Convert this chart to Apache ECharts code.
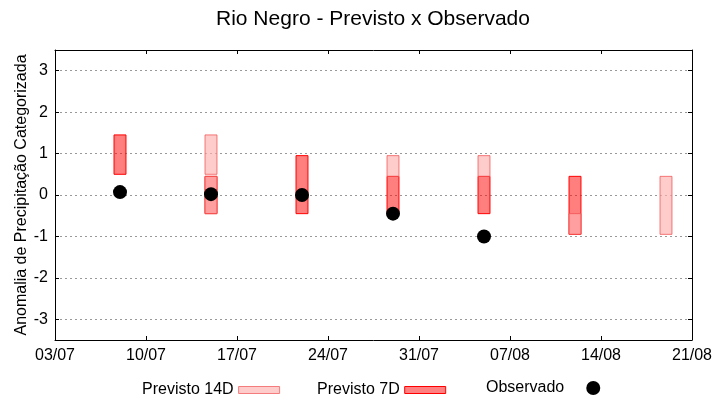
<!DOCTYPE html>
<html>
<head>
<meta charset="utf-8">
<script src="https://cdn.jsdelivr.net/npm/echarts@6/dist/echarts.min.js"></script>
<style>html,body{margin:0;padding:0;background:#fff}#c{width:720px;height:400px}</style>
</head>
<body>
<div id="c"></div>
<script>
// ---- data ----
const startDate = '03/07';
const xTickLabels = ['03/07','10/07','17/07','24/07','31/07','07/08','14/08','21/08'];
const yTickValues = [-3, -2, -1, 0, 1, 2, 3];
// Previsto 14D boxes: [date, low, high]
const prev14Dates = ['15/07','15/07','29/07','05/08','12/08','19/08'];
const prev14Low   = [0.5, -0.45, 0.45, 0.45, -0.95, -0.95];
const prev14High  = [1.45, 0.45, 0.95, 0.95, -0.45, 0.45];
// Previsto 7D boxes
const prev7Dates = ['08/07','15/07','22/07','29/07','05/08','12/08'];
const prev7Low   = [0.5, -0.45, -0.45, -0.45, -0.45, -0.95];
const prev7High  = [1.45, 0.45, 0.95, 0.45, 0.45, 0.45];
// Observado
const obsDates  = ['08/07','15/07','22/07','29/07','05/08'];
const obsValues = [0.07, 0.02, 0.0, -0.45, -1.0];

function dayIndex(s) {
  const [d, m] = s.split('/').map(Number);
  const [d0, m0] = startDate.split('/').map(Number);
  const t = Date.UTC(2024, m - 1, d), t0 = Date.UTC(2024, m0 - 1, d0);
  return Math.round((t - t0) / 86400000);
}

const boxHalf = 0.46;
function makeRender(fill, stroke) {
  return function (params, api) {
    const x = api.value(0), lo = api.value(1), hi = api.value(2);
    const p1 = api.coord([x - boxHalf, hi]);
    const p2 = api.coord([x + boxHalf, lo]);
    return {
      type: 'rect',
      shape: { x: p1[0], y: p1[1], width: p2[0] - p1[0], height: p2[1] - p1[1] },
      style: { fill: fill, stroke: stroke, lineWidth: 1 }
    };
  };
}

const c7fill = 'rgba(255,0,0,0.5)', c7stroke = '#ff0000';
const c14fill = 'rgba(255,177,177,0.65)', c14stroke = 'rgba(240,80,80,0.75)';

const narrow = '"Liberation Sans Narrow", "Liberation Sans", Arial, sans-serif';
const regular = '"Liberation Sans", Arial, sans-serif';

const xCommon = {
  type: 'value', min: 0, max: 49, interval: 7,
  axisLine: { show: true, onZero: false, lineStyle: { color: '#000', width: 1 } },
  axisTick: { show: true, inside: true, length: 4, lineStyle: { color: '#000' } },
  splitLine: { show: false }
};
const yCommon = {
  type: 'value', min: -3.5, max: 3.5,
  axisLine: { show: true, onZero: false, lineStyle: { color: '#000', width: 1 } },
  axisTick: { show: true, inside: true, length: 4, customValues: yTickValues, lineStyle: { color: '#000' } }
};

const option = {
  animation: false,
  backgroundColor: '#fff',
  title: {
    text: 'Rio Negro - Previsto x Observado',
    left: 373, top: 9, textAlign: 'center', padding: 0,
    textStyle: { fontFamily: regular, fontSize: 21, fontWeight: 'normal', color: '#000' }
  },
  grid: { left: 55, right: 28, top: 50, bottom: 60, containLabel: false },
  legend: [
    { left: 142, top: 382, padding: 0, align: 'right', itemWidth: 41, itemHeight: 7,
      textStyle: { fontFamily: regular, fontSize: 16, color: '#000' },
      data: [{ name: 'Previsto 14D', icon: 'rect', itemStyle: { color: 'rgb(255,204,204)', borderColor: 'rgb(244,124,124)', borderWidth: 1 } }] },
    { left: 317, top: 382, padding: 0, align: 'right', itemWidth: 41, itemHeight: 7,
      textStyle: { fontFamily: regular, fontSize: 16, color: '#000' },
      data: [{ name: 'Previsto 7D', icon: 'rect', itemStyle: { color: 'rgb(255,128,128)', borderColor: '#ff0000', borderWidth: 1 } }] },
    { left: 486, top: 380, padding: 0, align: 'right', itemWidth: 14, itemHeight: 14,
      textStyle: { fontFamily: regular, fontSize: 16, color: '#000', padding: [0, 17, 3, 0] },
      data: [{ name: 'Observado', icon: 'circle', itemStyle: { color: '#000', opacity: 1 } }] }
  ],
  xAxis: [
    Object.assign({}, xCommon, {
      position: 'bottom',
      axisLabel: { show: true, margin: 8, fontFamily: narrow, fontSize: 16, color: '#000',
        formatter: v => xTickLabels[Math.round(v / 7)] }
    }),
    Object.assign({}, xCommon, { position: 'top', axisLabel: { show: false } })
  ],
  yAxis: [
    Object.assign({}, yCommon, {
      position: 'left',
      name: 'Anomalia de Precipitação Categorizada',
      nameLocation: 'middle', nameGap: 25, nameRotate: 90, nameMoveOverlap: false,
      nameTextStyle: { fontFamily: regular, fontSize: 16, color: '#000' },
      axisLabel: { show: true, margin: 7, fontFamily: narrow, fontSize: 16, color: '#000', customValues: yTickValues },
      splitLine: { show: true, lineStyle: { color: '#999', width: 1, type: [2, 3] } }
    }),
    Object.assign({}, yCommon, { position: 'right', axisLabel: { show: false }, splitLine: { show: false } })
  ],
  series: [
    {
      name: 'Previsto 7D', type: 'custom', z: 2,
      renderItem: makeRender(c7fill, c7stroke),
      itemStyle: { color: 'rgb(255,128,128)' },
      encode: { x: 0, y: [1, 2] },
      data: prev7Dates.map((d, i) => [dayIndex(d), prev7Low[i], prev7High[i]])
    },
    {
      name: 'Previsto 14D', type: 'custom', z: 3,
      renderItem: makeRender(c14fill, c14stroke),
      itemStyle: { color: 'rgb(255,204,204)' },
      encode: { x: 0, y: [1, 2] },
      data: prev14Dates.map((d, i) => [dayIndex(d), prev14Low[i], prev14High[i]])
    },
    {
      name: 'Observado', type: 'scatter', z: 4,
      symbol: 'circle', symbolSize: 14,
      itemStyle: { color: '#000', opacity: 1 },
      data: obsDates.map((d, i) => [dayIndex(d), obsValues[i]])
    }
  ]
};

const chart = echarts.init(document.getElementById('c'), null, { renderer: 'canvas' });
chart.setOption(option);
</script>
</body>
</html>
